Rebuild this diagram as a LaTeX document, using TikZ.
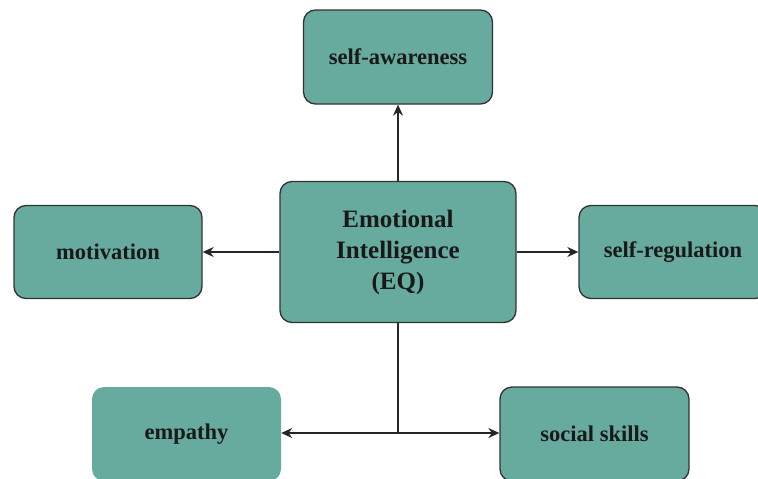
\documentclass[tikz,border=0pt]{standalone}
\usepackage{fontspec}
\setmainfont{Liberation Serif}
\usetikzlibrary{arrows.meta}
\definecolor{teal1}{HTML}{67AB9F}
\definecolor{edge1}{HTML}{333333}
\tikzset{
  box/.style={fill=teal1, draw=edge1, line width=1.3pt, rounded corners=12pt, inner sep=0pt},
  nob/.style={fill=teal1, draw=none, rounded corners=12pt, inner sep=0pt},
  lbl/.style={font=\bfseries\fontsize{22.5}{27}\selectfont, text=black!90},
  conn/.style={line width=1.6pt, draw=black!85, -{Stealth[length=11pt,width=10pt]}},
}
\begin{document}
\begin{tikzpicture}[x=1pt,y=-1pt]
\useasboundingbox (0,0) rectangle (758,479);
\clip (0,0) rectangle (758,479);
\node[box, minimum width=189pt, minimum height=94pt] (sa) at (398,57) {};
\node[lbl] at (sa.center) {self-awareness};
\node[box, minimum width=236pt, minimum height=141pt] (eq) at (398,252) {};
\node[lbl, font=\bfseries\fontsize{25}{31}\selectfont, align=center] at (eq.center) {Emotional\\Intelligence\\(EQ)};
\node[box, minimum width=188pt, minimum height=93pt] (mo) at (108,252) {};
\node[lbl] at (mo.center) {motivation};
\node[box, minimum width=188pt, minimum height=93pt] (sr) at (673,252) {};
\node[lbl] at (sr.center) {self-regulation};
\node[nob, minimum width=189pt, minimum height=94pt] (em) at (186.5,434) {};
\node[lbl] at (em.center) {empathy};
\node[box, minimum width=189pt, minimum height=94pt] (ss) at (594.5,434) {};
\node[lbl] at (ss.center) {social skills};
\coordinate (j) at (398,433);
\draw[conn] (eq.north) -- (eq.north |- sa.south);
\draw[conn] (eq.west) -- (mo.east |- eq.west);
\draw[conn] (eq.east) -- (sr.west |- eq.east);
\draw[line width=1.6pt, draw=black!85] (eq.south) -- (j);
\draw[conn] (j) -- (em.east |- j);
\draw[conn] (j) -- (ss.west |- j);
\end{tikzpicture}
\end{document}
